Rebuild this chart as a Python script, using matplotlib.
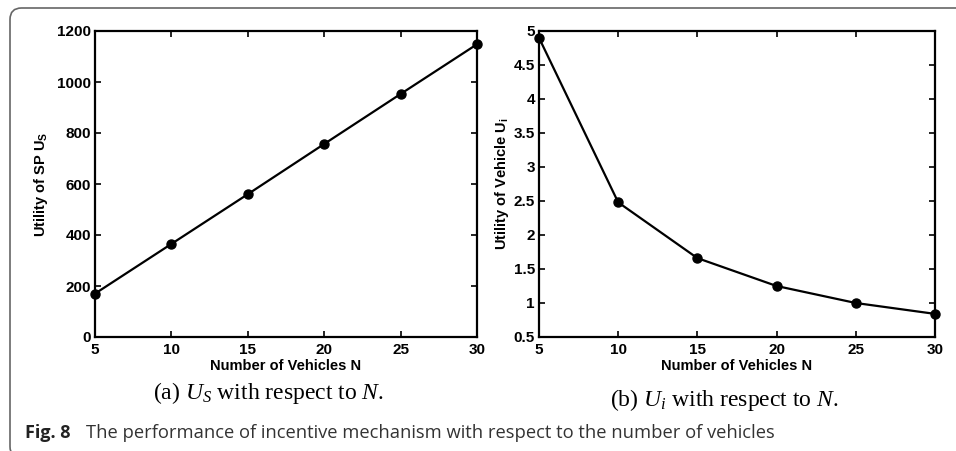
import matplotlib

matplotlib.use("Agg")
import matplotlib.pyplot as plt
from matplotlib.patches import FancyBboxPatch

# data
vehicles = [5, 10, 15, 20, 25, 30]
utility_sp = [170, 365, 560, 757, 953, 1148]
utility_vehicle = [4.9, 2.48, 1.66, 1.25, 1.0, 0.84]

x_ticks = [5, 10, 15, 20, 25, 30]
sp_ticks = [0, 200, 400, 600, 800, 1000, 1200]
veh_ticks = [0.5, 1, 1.5, 2, 2.5, 3, 3.5, 4, 4.5, 5]
veh_tick_labels = ["0.5", "1", "1.5", "2", "2.5", "3", "3.5", "4", "4.5", "5"]

W, H = 956, 451
plt.rcParams["font.family"] = ["Liberation Sans", "DejaVu Sans"]
plt.rcParams["mathtext.fontset"] = "custom"
plt.rcParams["mathtext.rm"] = "Liberation Sans:bold"
plt.rcParams["mathtext.bf"] = "Liberation Sans:bold"
plt.rcParams["mathtext.it"] = "Liberation Serif:italic"

fig = plt.figure(figsize=(W / 100, H / 100), dpi=100)


def px_rect(x0, y0, x1, y1):
    return [x0 / W, 1 - y1 / H, (x1 - x0) / W, (y1 - y0) / H]


def style_axes(ax):
    ax.tick_params(direction="in", top=True, right=True, length=4, width=1.2,
                   labelsize=11, pad=3)
    ax.tick_params(axis="x", pad=4)
    for lbl in ax.get_xticklabels() + ax.get_yticklabels():
        lbl.set_fontweight("bold")
    for sp in ax.spines.values():
        sp.set_linewidth(1.6)


line_kw = dict(color="black", lw=1.6, marker="o", markersize=6.5, clip_on=False, zorder=3)

ax1 = fig.add_axes(px_rect(95, 31, 477, 337))
ax1.plot(vehicles, utility_sp, **line_kw)
ax1.set_xlim(5, 30)
ax1.set_ylim(0, 1200)
ax1.set_xticks(x_ticks)
ax1.set_yticks(sp_ticks)
style_axes(ax1)
ax1.set_xlabel("Number of Vehicles N", fontsize=10.5, fontweight="bold", labelpad=2)
ax1.set_ylabel(r"Utility of SP U$_\mathrm{S}$", fontsize=10.5, fontweight="bold", labelpad=5)

ax2 = fig.add_axes(px_rect(539, 31, 935, 337))
ax2.plot(vehicles, utility_vehicle, **line_kw)
ax2.set_xlim(5, 30)
ax2.set_ylim(0.5, 5)
ax2.set_xticks(x_ticks)
ax2.set_yticks(veh_ticks)
ax2.set_yticklabels(veh_tick_labels)
style_axes(ax2)
ax2.set_xlabel("Number of Vehicles N", fontsize=10.5, fontweight="bold", labelpad=2)
ax2.set_ylabel(r"Utility of Vehicle U$_\mathrm{i}$", fontsize=10.5, fontweight="bold", labelpad=2)

# sub-captions
fig.text(268 / W, 1 - 393 / H, r"(a) $U_S$ with respect to $N$.", fontsize=17,
         family="Liberation Serif", ha="center", va="center")
fig.text(724 / W, 1 - 400 / H, r"(b) $U_i$ with respect to $N$.", fontsize=17,
         family="Liberation Serif", ha="center", va="center")

# figure caption
fig.text(25 / W, 1 - 433 / H, "Fig. 8", fontsize=13, fontweight="bold",
         family="Open Sans", color="#222222", ha="left", va="center")
fig.text(86 / W, 1 - 433 / H, "The performance of incentive mechanism with respect to the number of vehicles",
         fontsize=13.2, family="Open Sans", color="#333333", ha="left", va="center")

# rounded outer frame, partly off the canvas
frame = FancyBboxPatch((10 / W, 1 - 458 / H), 990 / W, 450 / H,
                       boxstyle="round,pad=0,rounding_size=0.012",
                       transform=fig.transFigure, fill=False,
                       edgecolor="#666666", lw=1.2, mutation_aspect=W / H)
fig.patches.append(frame)

fig.savefig("out.png", dpi=100)
